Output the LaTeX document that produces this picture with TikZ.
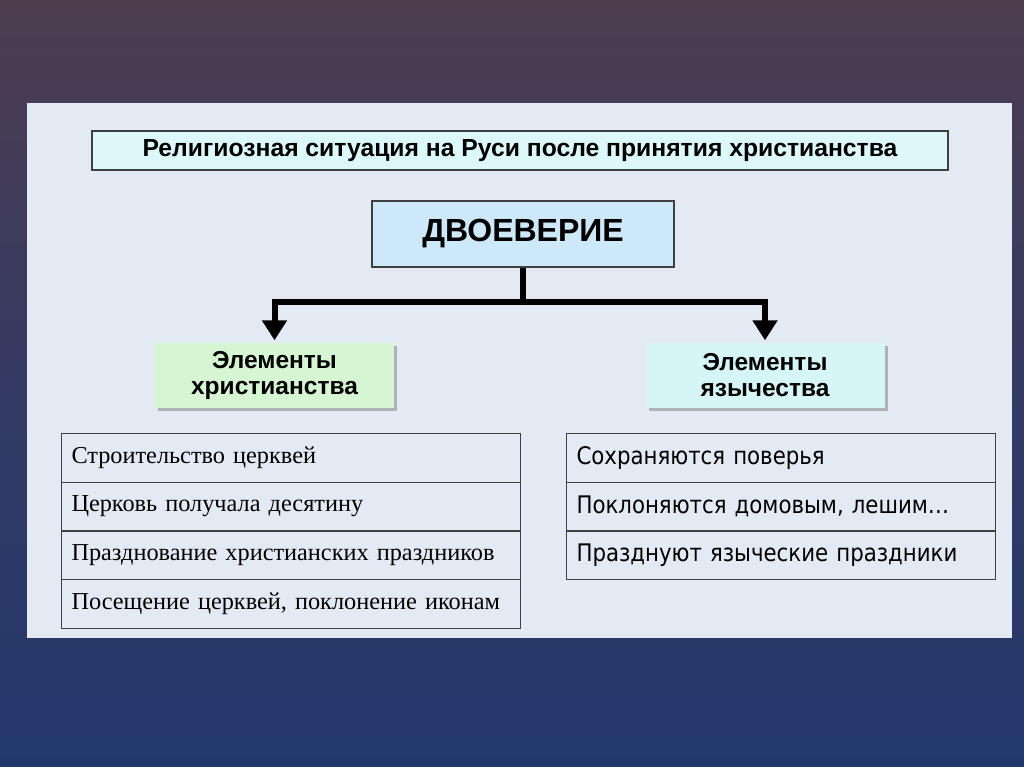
\documentclass[tikz,border=0pt]{standalone}
\usepackage{fontspec}
\setmainfont{Liberation Serif}
\newfontfamily\arialb{Liberation Sans}
\newfontfamily\tahomaf[FakeStretch=0.88]{DejaVu Sans}
\usetikzlibrary{arrows.meta,shadows}
\definecolor{bgtop}{HTML}{4E3D4F}
\definecolor{bgmid}{HTML}{343A64}
\definecolor{bgbot}{HTML}{22386C}
\definecolor{panel}{HTML}{E4EAF3}
\definecolor{titlefill}{HTML}{DDF8F8}
\definecolor{dvfill}{HTML}{CDE8F8}
\definecolor{greenfill}{HTML}{D6F5D2}
\definecolor{cyanfill}{HTML}{D6F5F5}
\definecolor{edge}{HTML}{404040}
\tikzset{
  titlebox/.style={draw=edge, line width=1.5pt, fill=titlefill, inner sep=0pt,
    font=\arialb\bfseries\fontsize{24.7}{28}\selectfont},
  dvbox/.style={draw=edge, line width=2pt, fill=dvfill, inner sep=0pt,
    font=\arialb\bfseries\fontsize{32}{36}\selectfont},
  elbox/.style={draw=none, inner sep=0pt, align=center,
    drop shadow={shadow xshift=3pt, shadow yshift=-3pt, fill=black!45, opacity=0.6},
    font=\arialb\bfseries\fontsize{24.5}{26}\selectfont},
  lrow/.style={draw=edge, line width=1.2pt, inner sep=0pt, outer sep=0pt,
    minimum width=459pt, minimum height=48.75pt, text width=439pt, align=left,
    font=\rmfamily\fontsize{24.3}{26}\selectfont},
  rrow/.style={draw=edge, line width=1.2pt, inner sep=0pt, outer sep=0pt,
    minimum width=429pt, minimum height=48.7pt, text width=409pt, align=left,
    font=\tahomaf\fontsize{24.2}{26}\selectfont},
  conn/.style={line width=6pt, black},
}
\begin{document}
\begin{tikzpicture}[x=1pt,y=-1pt]
\useasboundingbox (0,0) rectangle (1024,767);
% background
\shade[top color=bgtop, bottom color=bgbot, middle color=bgmid] (0,0) rectangle (1024,767);
\fill[panel] (27,103) rectangle (1012,638);
% title
\node[titlebox, minimum width=856pt, minimum height=39pt] (title) at (520,150.5)
  {Религиозная ситуация на Руси после принятия христианства};
% dvoeverie
\node[dvbox, minimum width=302pt, minimum height=66pt] (dv) at (523,234)
  {ДВОЕВЕРИЕ};
% element boxes
\node[elbox, fill=greenfill, minimum width=239pt, minimum height=65pt] (ec) at (274.5,375)
  {Элементы\\христианства};
\node[elbox, fill=cyanfill, minimum width=239pt, minimum height=65pt] (ep) at (765,375)
  {Элементы\\язычества};
% connectors
\coordinate (j) at (523,302);
\draw[conn] (dv.south) -- (j);
\draw[conn, -{Triangle[width=24pt,length=20pt]}, shorten >=2pt] (j) -| (ec.north);
\draw[conn, -{Triangle[width=24pt,length=20pt]}, shorten >=2pt] (j) -| (ep.north);
% left table
\node[lrow, anchor=north west] (l1) at (61.5,433.5) {Строительство церквей};
\node[lrow, anchor=north west] (l2) at (l1.south west) {Церковь получала десятину};
\node[lrow, anchor=north west] (l3) at (l2.south west) {Празднование христианских праздников};
\node[lrow, anchor=north west] (l4) at (l3.south west) {Посещение церквей, поклонение иконам};
% right table
\node[rrow, anchor=north west] (r1) at (566.5,433.5) {Сохраняются поверья};
\node[rrow, anchor=north west] (r2) at (r1.south west) {Поклоняются домовым, лешим…};
\node[rrow, anchor=north west] (r3) at (r2.south west) {Празднуют языческие праздники};
\end{tikzpicture}
\end{document}
